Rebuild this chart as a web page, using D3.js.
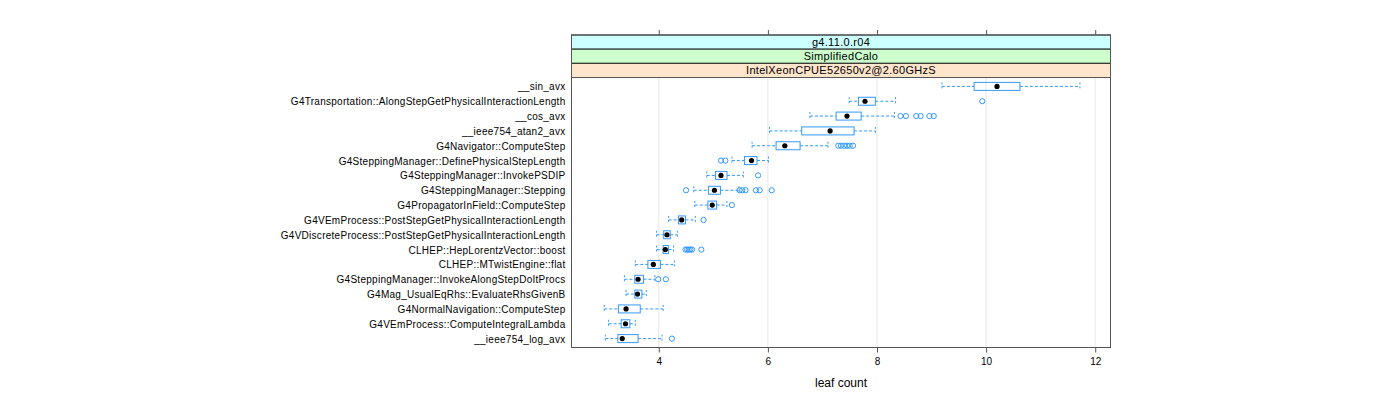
<!DOCTYPE html>
<html><head><meta charset="utf-8">
<script src="https://cdn.jsdelivr.net/npm/d3@7"></script>
<style>
body{margin:0;background:#fff;}
text{font-family:"Liberation Sans",Arial,Helvetica,sans-serif;}
</style></head>
<body><svg id="c" width="1400" height="400"></svg>
<script>
const categories = ["__sin_avx","G4Transportation::AlongStepGetPhysicalInteractionLength","__cos_avx","__ieee754_atan2_avx","G4Navigator::ComputeStep","G4SteppingManager::DefinePhysicalStepLength","G4SteppingManager::InvokePSDIP","G4SteppingManager::Stepping","G4PropagatorInField::ComputeStep","G4VEmProcess::PostStepGetPhysicalInteractionLength","G4VDiscreteProcess::PostStepGetPhysicalInteractionLength","CLHEP::HepLorentzVector::boost","CLHEP::MTwistEngine::flat","G4SteppingManager::InvokeAlongStepDoItProcs","G4Mag_UsualEqRhs::EvaluateRhsGivenB","G4NormalNavigation::ComputeStep","G4VEmProcess::ComputeIntegralLambda","__ieee754_log_avx"];
const whiskerLow  = [9.19,7.49,6.77,6.03,5.71,5.34,4.88,4.64,4.66,4.18,3.96,3.96,3.57,3.37,3.40,3.00,3.08,3.02];
const q1          = [9.78,7.66,7.25,6.62,6.15,5.57,5.04,4.91,4.90,4.36,4.09,4.08,3.80,3.56,3.56,3.26,3.31,3.25];
const median      = [10.20,7.78,7.45,7.14,6.31,5.70,5.14,5.02,4.98,4.42,4.15,4.12,3.90,3.62,3.61,3.40,3.39,3.33];
const q3          = [10.62,7.97,7.71,7.58,6.59,5.80,5.25,5.13,5.06,4.49,4.21,4.18,4.03,3.72,3.69,3.66,3.47,3.62];
const whiskerHigh = [11.72,8.34,8.32,7.97,7.10,6.01,5.55,5.47,5.25,4.67,4.34,4.27,4.29,3.93,3.77,4.08,3.57,4.06];
const outliers = [
  [],
  [9.93],
  [8.43,8.53,8.72,8.80,8.96,9.04],
  [],
  [7.29,7.34,7.40,7.45,7.50,7.56],
  [5.14,5.22],
  [5.82],
  [4.50,5.48,5.53,5.59,5.78,5.85,6.07],
  [5.34],
  [4.82],
  [],
  [4.49,4.52,4.55,4.58,4.61,4.78],
  [],
  [3.99,4.13],
  [],
  [],
  [],
  [4.24]
];
const xTicks = [4,6,8,10,12];
const strips = ["g4.11.0.r04","SimplifiedCalo","IntelXeonCPUE52650v2@2.60GHzS"];
const stripColors = ["#ccffff","#ccffcc","#ffe5cc"];

const svg = d3.select("#c");
const L = 571.5, R = 1110.5, T = 77.5, B = 347.5, stripTop = 35;
const n = categories.length;
const x = d3.scaleLinear().domain([2.40, 12.28]).range([L, R]);
const y = d3.scaleLinear().domain([n + 0.6, 0.4]).range([T, B]);
const yPos = i => y(n - i);
const blue = "#3399ff";

// grid
svg.append("g").selectAll("line").data(xTicks).join("line")
  .attr("x1", d => x(d)).attr("x2", d => x(d)).attr("y1", T).attr("y2", B)
  .attr("stroke", "#e6e6e6").attr("stroke-width", 1);

// strips
const sh = (T - stripTop) / strips.length;
strips.forEach((s, k) => {
  svg.append("rect").attr("x", L).attr("y", stripTop + k * sh).attr("width", R - L).attr("height", sh)
    .attr("fill", stripColors[k]).attr("stroke", "#222").attr("stroke-width", 1);
  svg.append("text").attr("x", (L + R) / 2).attr("y", stripTop + k * sh + sh / 2 + 4)
    .attr("text-anchor", "middle").attr("font-size", 11).attr("letter-spacing", 0.3)
    .attr("fill", "#000").text(s);
});

// boxes
const g = svg.append("g");
const bh = 4;
categories.forEach((c, i) => {
  const yc = yPos(i);
  const dash = "3,2";
  g.append("line").attr("x1", x(whiskerLow[i])).attr("x2", x(q1[i])).attr("y1", yc).attr("y2", yc)
    .attr("stroke", blue).attr("stroke-dasharray", dash);
  g.append("line").attr("x1", x(q3[i])).attr("x2", x(whiskerHigh[i])).attr("y1", yc).attr("y2", yc)
    .attr("stroke", blue).attr("stroke-dasharray", dash);
  [whiskerLow[i], whiskerHigh[i]].forEach(v => {
    g.append("line").attr("x1", x(v)).attr("x2", x(v)).attr("y1", yc - bh).attr("y2", yc + bh)
      .attr("stroke", blue).attr("stroke-dasharray", "2,2");
  });
  g.append("rect").attr("x", x(q1[i])).attr("y", yc - bh).attr("width", x(q3[i]) - x(q1[i])).attr("height", 2 * bh)
    .attr("fill", "none").attr("stroke", blue).attr("stroke-width", 1);
  g.append("circle").attr("cx", x(median[i])).attr("cy", yc).attr("r", 2.6).attr("fill", "#000");
  outliers[i].forEach(v => {
    g.append("circle").attr("cx", x(v)).attr("cy", yc).attr("r", 2.6)
      .attr("fill", "none").attr("stroke", blue).attr("stroke-width", 1);
  });
});

// frame
svg.append("rect").attr("x", L).attr("y", T).attr("width", R - L).attr("height", B - T)
  .attr("fill", "none").attr("stroke", "#555").attr("stroke-width", 1);
svg.append("rect").attr("x", L).attr("y", stripTop).attr("width", R - L).attr("height", B - stripTop)
  .attr("fill", "none").attr("stroke", "#555").attr("stroke-width", 1);

// axes
const ax = svg.append("g").attr("transform", `translate(0,${B})`)
  .call(d3.axisBottom(x).tickValues(xTicks).tickSize(5).tickPadding(5).tickFormat(d3.format("d")));
ax.select(".domain").remove();
ax.selectAll("line").attr("stroke", "#555");
ax.selectAll("text").attr("font-size", 10).attr("fill", "#000").attr("font-family", "Liberation Sans, Arial, sans-serif");

const axT = svg.append("g").attr("transform", `translate(0,${stripTop})`)
  .call(d3.axisTop(x).tickValues(xTicks).tickSize(5).tickFormat(""));
axT.select(".domain").remove();
axT.selectAll("line").attr("stroke", "#555");

// y labels
svg.append("g").selectAll("text").data(categories).join("text")
  .attr("x", L - 6).attr("y", (d, i) => yPos(i) + 4)
  .attr("text-anchor", "end").attr("font-size", 10).attr("letter-spacing", 0.27)
  .attr("fill", "#000").text(d => d);

svg.append("text").attr("x", (L + R) / 2).attr("y", 387).attr("text-anchor", "middle")
  .attr("font-size", 12).attr("fill", "#000").text("leaf count");
</script></body></html>
